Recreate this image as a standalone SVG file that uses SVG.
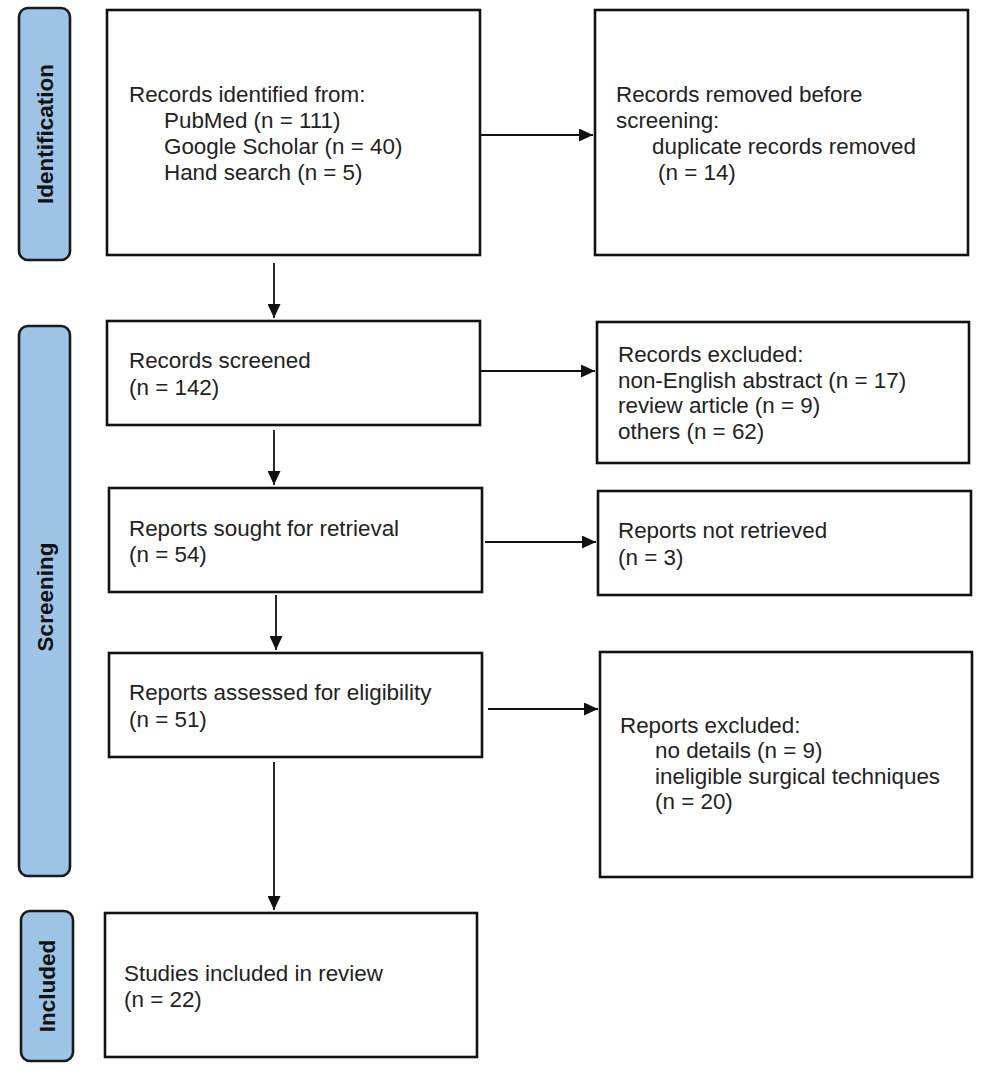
<svg xmlns="http://www.w3.org/2000/svg" width="986" height="1071" viewBox="0 0 986 1071">
<defs>
<marker id="ah" viewBox="0 0 14 13" refX="14" refY="6.5" markerWidth="14" markerHeight="13" markerUnits="userSpaceOnUse" orient="auto">
<path d="M0,0 L14,6.5 L0,13 z" fill="#111"/>
</marker>
<style>
.box{fill:#fff;stroke:#111;stroke-width:2.6}
.pill{fill:#9dc3e6;stroke:#1a1a1a;stroke-width:2.6}
.t{font-family:"Liberation Sans",Arial,sans-serif;font-size:22.4px;fill:#222}
.pt{font-family:"Liberation Sans",Arial,sans-serif;font-size:22.5px;font-weight:bold;fill:#111;text-anchor:middle}
.c{stroke:#111;stroke-width:1.8;fill:none}
</style>
</defs>
<rect width="986" height="1071" fill="#fff"/>
<g id="phase-identification">
<rect class="pill" x="19" y="8" width="51" height="252" rx="9"/>
<text class="pt" transform="translate(53,134) rotate(-90)">Identification</text>
</g>
<g id="phase-screening">
<rect class="pill" x="19" y="326" width="51" height="550" rx="9"/>
<text class="pt" transform="translate(53,597) rotate(-90)">Screening</text>
</g>
<g id="phase-included">
<rect class="pill" x="21" y="911" width="52" height="150" rx="9"/>
<text class="pt" transform="translate(55,986) rotate(-90)">Included</text>
</g>
<g id="n-identified">
<rect class="box" x="107" y="10" width="373" height="245"/>
<text class="t" x="129" y="102">Records identified from:</text>
<text class="t" x="164" y="128">PubMed (n = 111)</text>
<text class="t" x="164" y="154">Google Scholar (n = 40)</text>
<text class="t" x="164" y="180">Hand search (n = 5)</text>
</g>
<g id="n-removed">
<rect class="box" x="595" y="10" width="373" height="245"/>
<text class="t" x="616" y="102">Records removed before</text>
<text class="t" x="616" y="128">screening:</text>
<text class="t" x="652" y="154">duplicate records removed</text>
<text class="t" x="658" y="180">(n = 14)</text>
</g>
<g id="n-screened">
<rect class="box" x="107" y="321" width="373" height="104"/>
<text class="t" x="129" y="368">Records screened</text>
<text class="t" x="129" y="395">(n = 142)</text>
</g>
<g id="n-excluded">
<rect class="box" x="597" y="322" width="372" height="141"/>
<text class="t" x="618" y="362">Records excluded:</text>
<text class="t" x="618" y="388">non-English abstract (n = 17)</text>
<text class="t" x="618" y="413">review article (n = 9)</text>
<text class="t" x="618" y="439">others (n = 62)</text>
</g>
<g id="n-sought">
<rect class="box" x="109" y="488" width="373" height="104"/>
<text class="t" x="129" y="536">Reports sought for retrieval</text>
<text class="t" x="129" y="562">(n = 54)</text>
</g>
<g id="n-notretrieved">
<rect class="box" x="598" y="491" width="373" height="104"/>
<text class="t" x="618" y="538">Reports not retrieved</text>
<text class="t" x="618" y="565">(n = 3)</text>
</g>
<g id="n-assessed">
<rect class="box" x="109" y="653" width="373" height="104"/>
<text class="t" x="129" y="700">Reports assessed for eligibility</text>
<text class="t" x="129" y="727">(n = 51)</text>
</g>
<g id="n-reportsexcluded">
<rect class="box" x="600" y="652" width="372" height="225"/>
<text class="t" x="620" y="733">Reports excluded:</text>
<text class="t" x="655" y="758">no details (n = 9)</text>
<text class="t" x="655" y="784">ineligible surgical techniques</text>
<text class="t" x="655" y="809">(n = 20)</text>
</g>
<g id="n-included">
<rect class="box" x="105" y="913" width="372" height="144"/>
<text class="t" x="124" y="981">Studies included in review</text>
<text class="t" x="124" y="1007">(n = 22)</text>
</g>
<g id="connectors">
<line class="c" x1="481" y1="135" x2="593" y2="135" marker-end="url(#ah)"/>
<line class="c" x1="274" y1="263" x2="274" y2="318" marker-end="url(#ah)"/>
<line class="c" x1="481" y1="371" x2="595" y2="371" marker-end="url(#ah)"/>
<line class="c" x1="274" y1="430" x2="274" y2="485" marker-end="url(#ah)"/>
<line class="c" x1="485" y1="542" x2="596" y2="542" marker-end="url(#ah)"/>
<line class="c" x1="276" y1="595" x2="276" y2="650" marker-end="url(#ah)"/>
<line class="c" x1="488" y1="709" x2="598" y2="709" marker-end="url(#ah)"/>
<line class="c" x1="274" y1="762" x2="274" y2="910" marker-end="url(#ah)"/>
</g>
</svg>
